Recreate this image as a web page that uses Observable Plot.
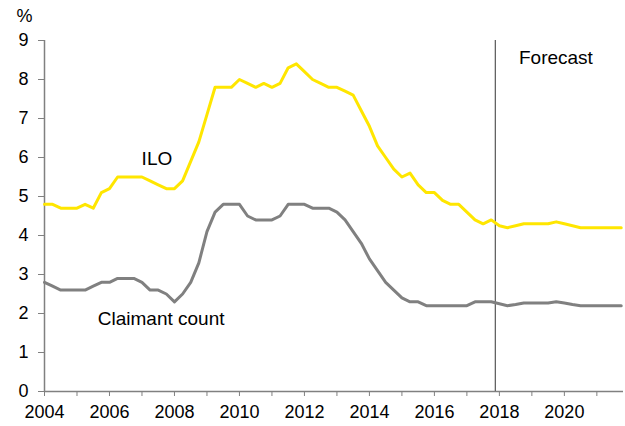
<!DOCTYPE html>
<html>
<head>
<meta charset="utf-8">
<script src="https://cdn.jsdelivr.net/npm/d3@7"></script>
<script src="https://cdn.jsdelivr.net/npm/@observablehq/plot@0.6"></script>
<style>
  html, body { margin: 0; padding: 0; background: #fff; }
  #chart svg { display: block; }
</style>
</head>
<body>
<div id="chart"></div>
<script>
// Quarterly positions 2004 Q1 .. 2021 Q4
const startYear = 2004;
const quarters = 72;

const ilo = [
  4.8, 4.8, 4.7, 4.7,
  4.7, 4.8, 4.7, 5.1,
  5.2, 5.5, 5.5, 5.5,
  5.5, 5.4, 5.3, 5.2,
  5.2, 5.4, 5.9, 6.4,
  7.1, 7.8, 7.8, 7.8,
  8.0, 7.9, 7.8, 7.9,
  7.8, 7.9, 8.3, 8.4,
  8.2, 8.0, 7.9, 7.8,
  7.8, 7.7, 7.6, 7.2,
  6.8, 6.3, 6.0, 5.7,
  5.5, 5.6, 5.3, 5.1,
  5.1, 4.9, 4.8, 4.8,
  4.6, 4.4, 4.3, 4.4,
  4.25, 4.2, 4.25, 4.3,
  4.3, 4.3, 4.3, 4.35,
  4.3, 4.25, 4.2, 4.2,
  4.2, 4.2, 4.2, 4.2
];

const claimant = [
  2.8, 2.7, 2.6, 2.6,
  2.6, 2.6, 2.7, 2.8,
  2.8, 2.9, 2.9, 2.9,
  2.8, 2.6, 2.6, 2.5,
  2.3, 2.5, 2.8, 3.3,
  4.1, 4.6, 4.8, 4.8,
  4.8, 4.5, 4.4, 4.4,
  4.4, 4.5, 4.8, 4.8,
  4.8, 4.7, 4.7, 4.7,
  4.6, 4.4, 4.1, 3.8,
  3.4, 3.1, 2.8, 2.6,
  2.4, 2.3, 2.3, 2.2,
  2.2, 2.2, 2.2, 2.2,
  2.2, 2.3, 2.3, 2.3,
  2.25, 2.2, 2.23, 2.27,
  2.27, 2.27, 2.27, 2.3,
  2.27, 2.23, 2.2, 2.2,
  2.2, 2.2, 2.2, 2.2
];

const yTicks = [0, 1, 2, 3, 4, 5, 6, 7, 8, 9];
const xTicks = d3.range(2004, 2022);
const forecastStart = 2017.875;
const xEnd = 2021.82;

const labels = [
  {x: 2007.46, y: 5.96, text: "ILO"},
  {x: 2007.59, y: 1.87, text: "Claimant count"},
  {x: 2019.74, y: 8.55, text: "Forecast"}
];

const iloData = ilo.map((v, i) => ({x: startYear + i / 4, y: v}));
const ccData = claimant.map((v, i) => ({x: startYear + i / 4, y: v}));

const axisGray = "#808080";

const chart = Plot.plot({
  width: 625,
  height: 426,
  marginLeft: 44,
  marginRight: 2,
  marginTop: 40,
  marginBottom: 35,
  style: {fontFamily: "'Liberation Sans', Arial, sans-serif", fontSize: "18px", color: "#000", background: "#fff"},
  x: {domain: [startYear, xEnd], axis: null},
  y: {domain: [0, 9], axis: null},
  marks: [
    Plot.axisY({ticks: yTicks, tickSize: 6, tickPadding: 10, stroke: axisGray, fill: "#000", fontSize: 18, label: null, tickFormat: d => String(d)}),
    Plot.axisX({ticks: xTicks, tickSize: 5, tickPadding: 9, stroke: axisGray, fill: "#000", fontSize: 18, label: null, tickFormat: d => (d % 2 === 0 ? String(d) : "")}),
    Plot.ruleX([startYear], {y1: 0, y2: 9, stroke: axisGray, strokeWidth: 1.5}),
    Plot.ruleY([0], {stroke: axisGray, strokeWidth: 1.5}),
    Plot.ruleX([forecastStart], {y1: 0, y2: 9, stroke: "#555", strokeWidth: 1.2}),
    Plot.line(iloData, {x: "x", y: "y", stroke: "#FFE600", strokeWidth: 3}),
    Plot.line(ccData, {x: "x", y: "y", stroke: "#808080", strokeWidth: 3}),
    Plot.text(labels, {x: "x", y: "y", text: "text", fontSize: 19, fill: "#000"}),
    Plot.text(["%"], {x: startYear, y: 9, text: d => d, dx: -20, dy: -24, fontSize: 18, fill: "#000"})
  ]
});

document.getElementById("chart").appendChild(chart);
</script>
</body>
</html>
